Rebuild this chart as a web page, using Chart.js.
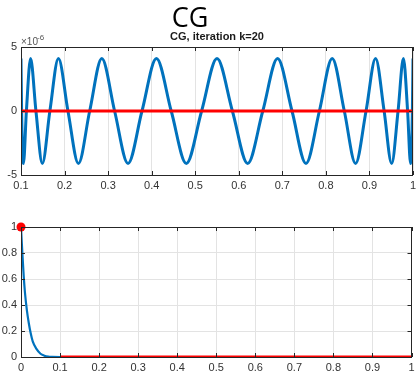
<!DOCTYPE html>
<html>
<head>
<meta charset="utf-8">
<script src="https://cdn.jsdelivr.net/npm/chart.js@4"></script>
<style>
    html, body { margin: 0; padding: 0; background: #fff; }
    body { width: 416px; height: 373px; position: relative; overflow: hidden; }
    canvas { position: absolute; left: 0; }
    #top-chart { top: 0; }
    #bottom-chart { top: 195px; }
</style>
</head>
<body>
<canvas id="top-chart" width="416" height="195"></canvas>
<canvas id="bottom-chart" width="416" height="178"></canvas>
<script>
// Top panel: error curve after 20 iterations (extrema and zero crossings)
const topX = [0.1, 0.1014, 0.1056, 0.1124, 0.1220, 0.1343, 0.1490, 0.1663, 0.1859, 0.2078,
    0.2318, 0.2577, 0.2855, 0.3149, 0.3457, 0.3778, 0.4109, 0.4449, 0.4796, 0.5147,
    0.55, 0.5853, 0.6204, 0.6551, 0.6891, 0.7222, 0.7543, 0.7851, 0.8145, 0.8423,
    0.8682, 0.8922, 0.9141, 0.9337, 0.9510, 0.9657, 0.9780, 0.9876, 0.9944, 0.9986, 1.0];
const topY = [4.1e-6, 0, -4.1e-6, 0, 4.1e-6, 0, -4.1e-6, 0, 4.1e-6, 0,
    -4.1e-6, 0, 4.1e-6, 0, -4.1e-6, 0, 4.1e-6, 0, -4.1e-6, 0,
    4.1e-6, 0, -4.1e-6, 0, 4.1e-6, 0, -4.1e-6, 0, 4.1e-6, 0,
    -4.1e-6, 0, 4.1e-6, 0, -4.1e-6, 0, 4.1e-6, 0, -4.1e-6, 0, 4.1e-6];
const topRedX = [0.1, 1];
const topRedY = [0, 0];
const topXTicks = [0.1, 0.2, 0.3, 0.4, 0.5, 0.6, 0.7, 0.8, 0.9, 1];
const topYTicks = [-5e-6, 0, 5e-6];

// Bottom panel: polynomial on [0, 1]
const bottomX = [0, 0.002, 0.004, 0.007, 0.01, 0.015, 0.02, 0.025, 0.03, 0.04, 0.05, 0.06, 0.07, 0.08, 0.1, 1];
const bottomY = [1, 0.88, 0.77, 0.62, 0.5, 0.36, 0.26, 0.18, 0.12, 0.06, 0.025, 0.01, 0.003, 0.001, 0, 0];
const bottomRedX = [0.1, 1];
const bottomRedY = [0, 0];
const dotX = [0];
const dotY = [1];
const bottomXTicks = [0, 0.1, 0.2, 0.3, 0.4, 0.5, 0.6, 0.7, 0.8, 0.9, 1];
const bottomYTicks = [0, 0.2, 0.4, 0.6, 0.8, 1];

const BLUE = '#0072BD';
const RED = '#FF0000';
const AXIS = '#262626';
const TEXT = '#333333';
const GRID = '#e3e3e3';
const FONT = '"Liberation Sans", Arial, sans-serif';

function points(xs, ys) {
    return xs.map((x, i) => ({ x: x, y: ys[i] }));
}

function fmt(v) {
    return String(Math.round(v * 10) / 10);
}

// Box round the plot area with MATLAB style inward ticks
const boxPlugin = {
    id: 'box',
    afterDatasetsDraw(chart) {
        const ctx = chart.ctx;
        const a = chart.chartArea;
        const xs = chart.scales.x;
        const ys = chart.scales.y;
        const len = 4;
        ctx.save();
        ctx.strokeStyle = AXIS;
        ctx.lineWidth = 1;
        ctx.strokeRect(Math.round(a.left) + 0.5, Math.round(a.top) + 0.5,
            Math.round(a.right - a.left) - 1, Math.round(a.bottom - a.top));
        ctx.beginPath();
        xs.ticks.forEach(t => {
            const p = Math.round(xs.getPixelForValue(t.value)) + 0.5;
            ctx.moveTo(p, a.bottom); ctx.lineTo(p, a.bottom - len);
            ctx.moveTo(p, a.top); ctx.lineTo(p, a.top + len);
        });
        ys.ticks.forEach(t => {
            const p = Math.round(ys.getPixelForValue(t.value)) + 0.5;
            ctx.moveTo(a.left, p); ctx.lineTo(a.left + len, p);
            ctx.moveTo(a.right, p); ctx.lineTo(a.right - len, p);
        });
        ctx.stroke();
        ctx.restore();
    }
};

// Figure title, axes title and exponent label for the top panel
const titlePlugin = {
    id: 'titles',
    afterDraw(chart) {
        const ctx = chart.ctx;
        const a = chart.chartArea;
        ctx.save();
        ctx.fillStyle = '#000';
        ctx.textAlign = 'center';
        ctx.textBaseline = 'alphabetic';
        ctx.font = '27px "Open Sans", sans-serif';
        ctx.fillText('CG', 190, 27);
        ctx.fillStyle = '#1a1a1a';
        ctx.font = 'bold 11px ' + FONT;
        ctx.fillText('CG, iteration k=20', (a.left + a.right) / 2, 40);
        ctx.fillStyle = '#555';
        ctx.textAlign = 'left';
        ctx.font = '10px ' + FONT;
        ctx.fillText('\u00d710', a.left, a.top - 2);
        ctx.font = '8px ' + FONT;
        ctx.fillText('-6', a.left + 16, a.top - 7);
        ctx.restore();
    }
};

function makeScales(xTicks, yTicks, xMin, xMax, yMin, yMax, yWidth, xHeight, yFormat) {
    return {
        x: {
            type: 'linear',
            min: xMin,
            max: xMax,
            afterBuildTicks: s => { s.ticks = xTicks.map(v => ({ value: v })); },
            afterFit: s => {
                s.height = xHeight;
                s.paddingLeft = 0;
                s.paddingRight = 0;
            },
            grid: { color: GRID, drawTicks: false },
            border: { display: false },
            ticks: {
                padding: 4,
                color: TEXT,
                font: { family: FONT, size: 11 },
                maxRotation: 0,
                autoSkip: false,
                callback: v => fmt(v)
            }
        },
        y: {
            type: 'linear',
            min: yMin,
            max: yMax,
            afterBuildTicks: s => { s.ticks = yTicks.map(v => ({ value: v })); },
            afterFit: s => {
                s.width = yWidth;
                s.paddingTop = 0;
                s.paddingBottom = 0;
            },
            grid: { color: GRID, drawTicks: false },
            border: { display: false },
            ticks: {
                padding: 4,
                color: TEXT,
                font: { family: FONT, size: 11 },
                autoSkip: false,
                callback: yFormat
            }
        }
    };
}

function initializeCharts() {
    // Top panel
    const topCtx = document.getElementById('top-chart').getContext('2d');
    new Chart(topCtx, {
        type: 'line',
        data: {
            datasets: [{
                data: points(topRedX, topRedY),
                borderColor: RED,
                borderWidth: 3,
                pointRadius: 0
            }, {
                data: points(topX, topY),
                borderColor: BLUE,
                borderWidth: 3,
                pointRadius: 0,
                cubicInterpolationMode: 'monotone'
            }]
        },
        options: {
            responsive: false,
            animation: false,
            layout: { padding: { top: 47, left: 0, right: 3, bottom: 0 } },
            plugins: { legend: { display: false }, tooltip: { enabled: false } },
            scales: makeScales(topXTicks, topYTicks, 0.1, 1, -5e-6, 5e-6, 21, 20,
                v => String(Math.round(v * 1e6)))
        },
        plugins: [boxPlugin, titlePlugin]
    });

    // Bottom panel
    const bottomCtx = document.getElementById('bottom-chart').getContext('2d');
    new Chart(bottomCtx, {
        type: 'line',
        data: {
            datasets: [{
                data: points(dotX, dotY),
                borderColor: RED,
                backgroundColor: RED,
                pointRadius: 4.5,
                pointBorderWidth: 0,
                showLine: false,
                clip: false
            }, {
                data: points(bottomRedX, bottomRedY),
                borderColor: RED,
                borderWidth: 3,
                pointRadius: 0
            }, {
                data: points(bottomX, bottomY),
                borderColor: BLUE,
                borderWidth: 2.2,
                pointRadius: 0,
                cubicInterpolationMode: 'monotone'
            }]
        },
        options: {
            responsive: false,
            animation: false,
            layout: { padding: { top: 32, left: 0, right: 3, bottom: 0 } },
            plugins: { legend: { display: false }, tooltip: { enabled: false } },
            scales: makeScales(bottomXTicks, bottomYTicks, 0, 1, 0, 1, 21, 16, v => fmt(v))
        },
        plugins: [boxPlugin]
    });
}

document.addEventListener('DOMContentLoaded', initializeCharts);
</script>
</body>
</html>
